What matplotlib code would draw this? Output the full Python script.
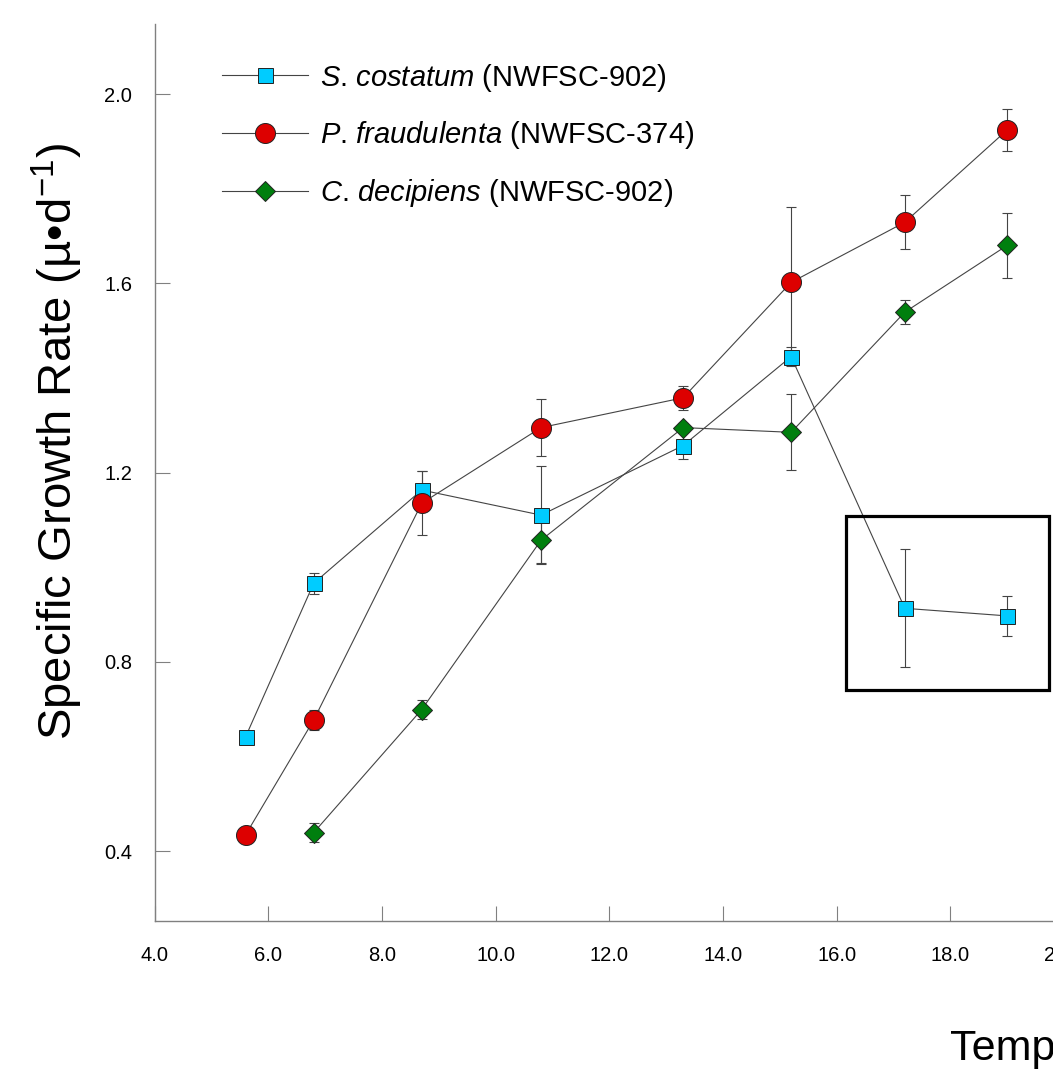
import matplotlib
matplotlib.use("Agg")
import matplotlib.pyplot as plt
from matplotlib.patches import Rectangle

plt.rcParams['font.family'] = ['Liberation Sans', 'DejaVu Sans']
plt.rcParams['mathtext.fontset'] = 'custom'
plt.rcParams['mathtext.rm'] = 'Liberation Sans'
plt.rcParams['mathtext.it'] = 'Liberation Sans:italic'

# temperatures (°C)
temp_s = [5.6, 6.8, 8.7, 10.8, 13.3, 15.2, 17.2, 19.0]
temp_p = [5.6, 6.8, 8.7, 10.8, 13.3, 15.2, 17.2, 19.0]
temp_c = [6.8, 8.7, 10.8, 13.3, 15.2, 17.2, 19.0]

# growth rates and error
rate_s = [0.641, 0.966, 1.163, 1.110, 1.257, 1.445, 0.913, 0.897]
err_s = [0.01, 0.022, 0.040, 0.104, 0.029, 0.020, 0.125, 0.043]
rate_p = [0.434, 0.677, 1.135, 1.295, 1.358, 1.602, 1.729, 1.924]
err_p = [0.005, 0.022, 0.068, 0.061, 0.025, 0.160, 0.057, 0.044]
rate_c = [0.439, 0.699, 1.057, 1.295, 1.285, 1.539, 1.680]
err_c = [0.020, 0.020, 0.048, 0.010, 0.080, 0.026, 0.069]

labels = [r'$\mathit{S}$. $\mathit{costatum}$ (NWFSC-902)',
          r'$\mathit{P}$. $\mathit{fraudulenta}$ (NWFSC-374)',
          r'$\mathit{C}$. $\mathit{decipiens}$ (NWFSC-902)']

xticks = [4, 6, 8, 10, 12, 14, 16, 18, 20]
yticks = [0.4, 0.8, 1.2, 1.6, 2.0]

# highlighted region (x0, y0, width, height)
box = (16.16, 0.740, 3.58, 0.368)

fig = plt.figure(figsize=(10.53, 10.77), dpi=100)
ax = fig.add_axes([0.1468, 0.1448, 0.8636, 0.8329])

line_col = '#444444'
edge_col = '#222222'

series = [
    (temp_s, rate_s, err_s, 's', 10.8, '#00CCFF'),
    (temp_p, rate_p, err_p, 'o', 14.4, '#DD0000'),
    (temp_c, rate_c, err_c, 'D', 10.2, '#007F0E'),
]

handles = []
for (x, y, e, m, ms, c), lab in zip(series, labels):
    ax.errorbar(x, y, yerr=e, fmt='none', ecolor=line_col, elinewidth=0.8,
                capsize=3.6, capthick=0.8, zorder=2)
    h, = ax.plot(x, y, '-', color=line_col, lw=0.8, marker=m, ms=ms,
                 mfc=c, mec=edge_col, mew=0.7, label=lab, zorder=3)
    handles.append(h)

ax.add_patch(Rectangle((box[0], box[1]), box[2], box[3], fill=False,
                       edgecolor='black', lw=2.3, zorder=4))

ax.set_xlim(4, 20)
ax.set_ylim(0.252, 2.148)
ax.set_xticks(xticks)
ax.set_xticklabels([f'{v:.1f}' for v in xticks])
ax.set_yticks(yticks)
ax.set_yticklabels([f'{v:.1f}' for v in yticks])

for s in ['top', 'right']:
    ax.spines[s].set_visible(False)
for s in ['left', 'bottom']:
    ax.spines[s].set_color('#808080')
    ax.spines[s].set_linewidth(1.0)

ax.tick_params(axis='both', direction='in', length=11, width=0.8,
               color='#808080', labelsize=14.5)
ax.tick_params(axis='x', pad=18)
ax.tick_params(axis='y', pad=16)

ax.set_ylabel(r'Specific Growth Rate (µ•d$^{-1}$)', fontsize=34)
ax.yaxis.set_label_coords(-0.0765, 0.534)
ax.set_xlabel('Temperature (°C)', fontsize=31)
ax.xaxis.label.set_ha('left')
ax.xaxis.label.set_va('baseline')
ax.xaxis.set_label_coords(0.875, -0.155)

ax.legend(handles=handles, loc='upper left', bbox_to_anchor=(0.074, 0.958),
          frameon=False, fontsize=21, handlelength=2.95, handletextpad=0.42,
          labelspacing=0.88, borderpad=0, borderaxespad=0)

fig.savefig('out.png', dpi=100)
